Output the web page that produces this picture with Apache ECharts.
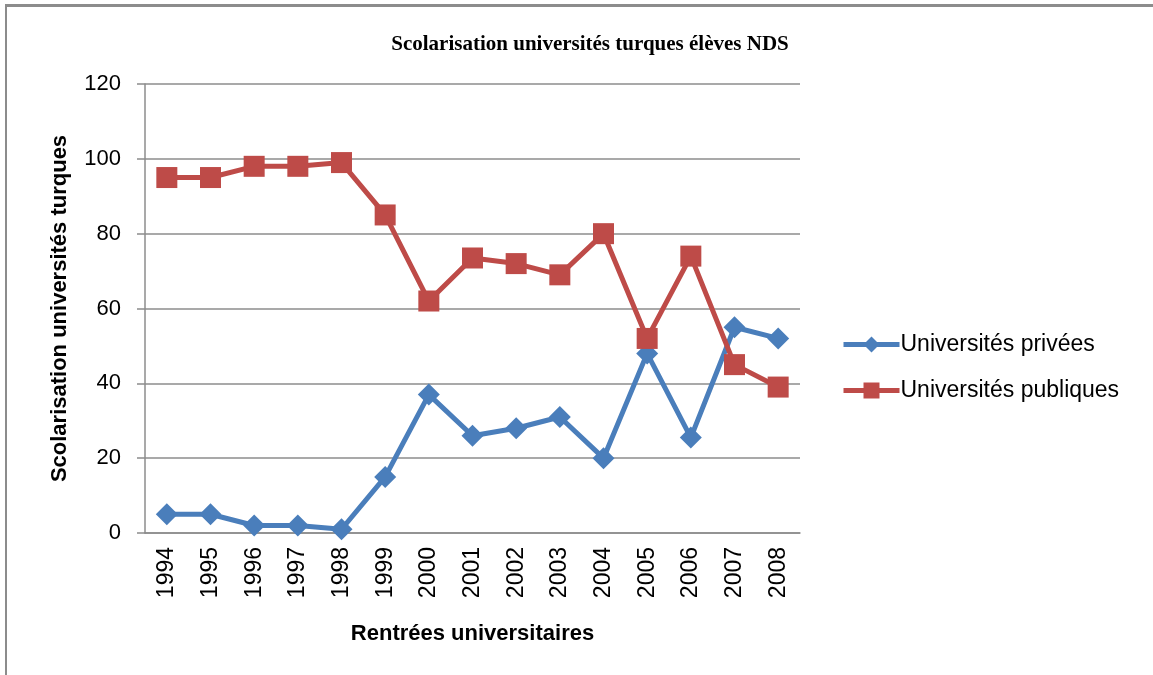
<!DOCTYPE html>
<html>
<head>
<meta charset="utf-8">
<script src="https://cdn.jsdelivr.net/npm/echarts@6/dist/echarts.min.js"></script>
<style>
    html, body { margin: 0; padding: 0; background: #fff; }
    #frame { position: absolute; left: 5px; top: 4px; width: 1148px; height: 671px;
             border-top: 3px solid #8c8c8c; border-left: 2px solid #8c8c8c; }
    #main1 { position: absolute; left: 0; top: 0; width: 1153px; height: 675px; }
</style>
</head>
<body>
<div id="frame"></div>
<div id="main1"></div>
<script>
// rentrées universitaires
var years = ['1994', '1995', '1996', '1997', '1998', '1999', '2000', '2001',
    '2002', '2003', '2004', '2005', '2006', '2007', '2008'];
// universités privées
var privees = [5, 5, 2, 2, 1, 15, 37, 26, 28, 31, 20, 48, 25.5, 55, 52];
// universités publiques
var publiques = [95, 95, 98, 98, 99, 85, 62, 73.5, 72, 69, 80, 52, 74, 45, 39];
var yTicks = [0, 20, 40, 60, 80, 100, 120];

var font = 'Liberation Sans';

function drawMain1() {
    var myChart = echarts.init(document.getElementById('main1'));

    var option = {
        backgroundColor: 'transparent',
        animation: false,
        title: {
            text: 'Scolarisation universités turques élèves NDS',
            left: 585,
            textAlign: 'center',
            top: 29,
            textStyle: {
                fontFamily: 'Liberation Serif',
                fontWeight: 'bold',
                fontSize: 21,
                color: '#000'
            }
        },
        legend: {
            orient: 'vertical',
            left: 836,
            top: 328,
            itemWidth: 56,
            itemHeight: 20,
            itemGap: 23,
            lineStyle: { width: 5 },
            textStyle: { fontFamily: font, fontSize: 23, color: '#000', padding: [0, 0, 0, -4] },
            data: ['Universités privées', 'Universités publiques']
        },
        grid: {
            left: 145,
            right: 353,
            top: 84,
            bottom: 142
        },
        xAxis: {
            type: 'category',
            data: years,
            name: 'Rentrées universitaires',
            nameLocation: 'middle',
            nameGap: 90,
            nameTextStyle: { fontFamily: font, fontSize: 22, fontWeight: 'bold', color: '#000' },
            axisLine: { lineStyle: { color: '#8c8c8c', width: 1.5 } },
            axisTick: { show: false },
            axisLabel: {
                rotate: 90,
                margin: 14,
                fontFamily: font,
                fontSize: 23,
                color: '#000'
            }
        },
        yAxis: {
            type: 'value',
            min: yTicks[0],
            max: yTicks[yTicks.length - 1],
            interval: 20,
            name: 'Scolarisation universités turques',
            nameLocation: 'middle',
            nameGap: 74,
            nameTextStyle: { fontFamily: font, fontSize: 22, fontWeight: 'bold', color: '#000' },
            axisLine: { show: true, lineStyle: { color: '#8c8c8c', width: 1.5 } },
            axisTick: { show: true, length: 8, lineStyle: { color: '#8c8c8c', width: 1.5 } },
            axisLabel: { margin: 24, fontFamily: font, fontSize: 22, color: '#000' },
            splitLine: { lineStyle: { color: '#8c8c8c', width: 1.5 } }
        },
        series: [{
            name: 'Universités privées',
            type: 'line',
            data: privees,
            symbol: 'diamond',
            symbolSize: 22,
            color: '#4a7ebb',
            lineStyle: { width: 5, color: '#4a7ebb' },
            itemStyle: { color: '#4a7ebb' }
        }, {
            name: 'Universités publiques',
            type: 'line',
            data: publiques,
            symbol: 'rect',
            symbolSize: 21,
            color: '#be4b48',
            lineStyle: { width: 5, color: '#be4b48' },
            itemStyle: { color: '#be4b48' }
        }]
    };

    myChart.setOption(option);
}

drawMain1();
</script>
</body>
</html>
